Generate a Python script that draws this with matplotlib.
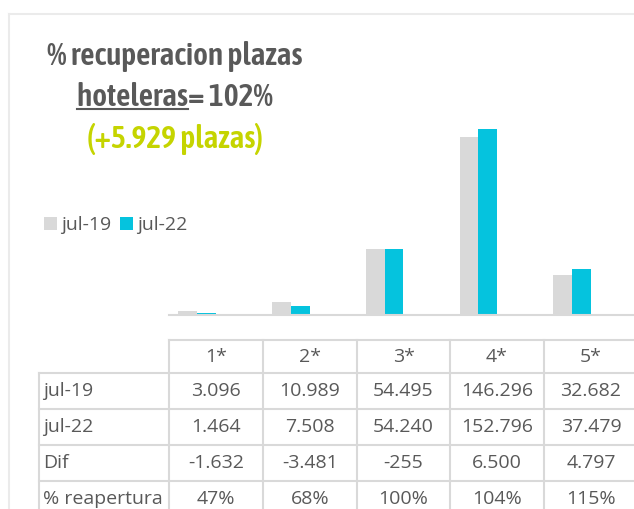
import matplotlib
matplotlib.use('Agg')
import matplotlib.pyplot as plt
import numpy as np

# Data
categories = ['1*', '2*', '3*', '4*', '5*']
jul19 = [3096, 10989, 54495, 146296, 32682]
jul22 = [1464, 7508, 54240, 152796, 37479]
dif = [-1632, -3481, -255, 6500, 4797]
reapertura = [47, 68, 100, 104, 115]
series_names = ['jul-19', 'jul-22']

GRAY = '#d9d9d9'
CYAN = '#05c3de'
TEXT = '#595959'
GREEN = '#c5d400'
GRID = '#d9d9d9'
BODY = 'Open Sans'
TITLE = ['Asap Condensed', 'DejaVu Sans']


def fmt(v):
    return f'{v:,}'.replace(',', '.')


W, H = 634, 509
fig = plt.figure(figsize=(W / 100, H / 100), dpi=100)

# background layer in pixel coordinates
bg = fig.add_axes([0, 0, 1, 1])
bg.set_xlim(0, W)
bg.set_ylim(H, 0)
bg.axis('off')

# frame
bg.plot([8.5, W], [13.5, 13.5], color='#ebebeb', lw=1.5)
bg.plot([8.5, 8.5], [13.5, H], color='#ebebeb', lw=1.5)

# bars
ax = fig.add_axes([169 / W, (H - 315) / H, (W - 169) / W, 195 / H])
x = np.arange(len(categories))
b1 = ax.bar(x - 0.1, jul19, 0.2, color=GRAY, label=series_names[0])
b2 = ax.bar(x + 0.1, jul22, 0.2, color=CYAN, label=series_names[1])
ax.set_xlim(-0.299, 4.661)
ax.set_ylim(0, 160000)
for s in ['top', 'left', 'right']:
    ax.spines[s].set_visible(False)
ax.spines['bottom'].set_color(GRID)
ax.spines['bottom'].set_linewidth(1.5)
ax.set_xticks([])
ax.set_yticks([])
ax.patch.set_alpha(0)

fig.legend(handles=[b1, b2], loc='center left', bbox_to_anchor=(44 / W, 1 - 225 / H),
           ncol=2, frameon=False, handlelength=0.67, handleheight=0.67,
           handletextpad=0.2, columnspacing=0.45, borderpad=0, borderaxespad=0,
           labelcolor=TEXT, prop={'family': BODY, 'size': 14})

# table
col_x = [169, 263, 357, 450, 544, 638]
row_y = [340, 373, 409, 445, 481, 517]
rows = [
    ('jul-19', [fmt(v) for v in jul19]),
    ('jul-22', [fmt(v) for v in jul22]),
    ('Dif', [fmt(v) for v in dif]),
    ('% reapertura', [f'{v}%' for v in reapertura]),
]
bg.plot([169, W], [340, 340], color=GRID, lw=1.5)
for y in row_y[1:]:
    bg.plot([39, W], [y, y], color=GRID, lw=1.5)
bg.plot([39, 39], [373, H], color=GRID, lw=1.5)
for cx in col_x[:-1]:
    bg.plot([cx, cx], [340, H], color=GRID, lw=1.5)

fs = 14
for i, c in enumerate(categories):
    bg.text((col_x[i] + col_x[i + 1]) / 2, (row_y[0] + row_y[1]) / 2, c,
            ha='center', va='center', color=TEXT, fontsize=fs, family=BODY)
for r, (label, vals) in enumerate(rows):
    yc = (row_y[r + 1] + row_y[r + 2]) / 2
    bg.text(43, yc, label, ha='left', va='center', color=TEXT, fontsize=fs, family=BODY)
    for i, v in enumerate(vals):
        bg.text((col_x[i] + col_x[i + 1]) / 2, yc, v, ha='center', va='center',
                color=TEXT, fontsize=fs, family=BODY)

# title, sized so the first line is ~255 px wide
r = fig.canvas.get_renderer()
tkw = dict(ha='center', va='baseline', fontsize=20, fontweight=600, family=TITLE)
t1 = bg.text(175, 65, '% recuperacion plazas', color=TEXT, **tkw)
tsize = 20 * 255 / t1.get_window_extent(r).width
t1.set_fontsize(tsize)
tkw['fontsize'] = tsize
t2 = bg.text(175, 106, 'hoteleras= 102%', color=TEXT, **tkw)
bg.text(175, 148, '(+5.929 plazas)', color=GREEN, **tkw)

# underline "hoteleras"
ext = t2.get_window_extent(r)
tmp = bg.text(0, 0, 'hoteleras', **tkw)
w = tmp.get_window_extent(r).width
tmp.remove()
bg.plot([ext.x0, ext.x0 + w], [109, 109], color=TEXT, lw=1.5)

fig.savefig('out.png', dpi=100)
